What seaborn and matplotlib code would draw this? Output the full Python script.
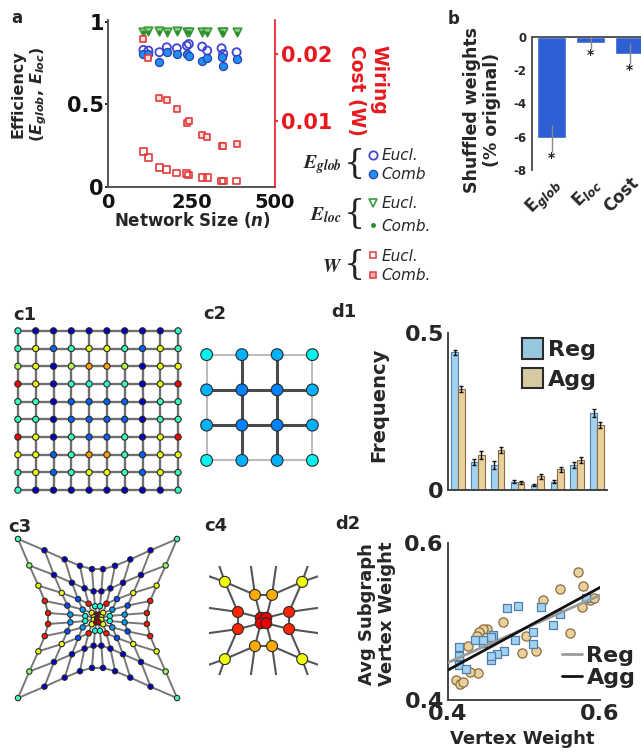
"""Multi-panel figure: efficiency / wiring cost vs. network size, shuffled
weights, example vertex-weight networks and subgraph statistics."""
import numpy as np
import pandas as pd
import matplotlib
matplotlib.use("Agg")
import matplotlib.pyplot as plt
from matplotlib.lines import Line2D
from matplotlib.patches import Patch
import seaborn as sns

W_PX, H_PX = 641, 752

# ---- panel a: efficiency and wiring cost vs. network size
network_size = [106, 121, 154, 176, 206, 236, 242, 282, 297, 340, 345, 385]
eglob_eucl = [0.829, 0.825, 0.815, 0.845, 0.839, 0.855, 0.865, 0.849, 0.825, 0.839, 0.805, 0.815]
eglob_comb = [0.805, 0.805, 0.755, 0.815, 0.805, 0.805, 0.795, 0.761, 0.781, 0.785, 0.729, 0.775]
eloc_eucl = [0.940, 0.945, 0.945, 0.940, 0.945, 0.940, 0.940, 0.940, 0.935, 0.940, 0.935, 0.935]
eloc_comb = [0.935, 0.940, 0.940, 0.935, 0.940, 0.935, 0.935, 0.935, 0.930, 0.935, 0.930, 0.930]
wiring_eucl = [0.0053, 0.0044, 0.0029, 0.0026, 0.0021, 0.0020, 0.0018, 0.0014, 0.0014, 0.0009, 0.0009, 0.0009]
wiring_comb = [0.0223, 0.0194, 0.0135, 0.0132, 0.0117, 0.0097, 0.0100, 0.0079, 0.0076, 0.0062, 0.0062, 0.0065]

# ---- panel b: shuffled weights (% of original)
shuffle_labels = [r"E$_{glob}$", r"E$_{loc}$", "Cost"]
shuffle_change = [-6.1, -0.35, -1.0]
shuffle_err = [0.8, 0.4, 0.65]

# ---- panels c1-c4: vertex weights on the jet scale (0-1)
c1_weights = [
    [0.41, 0.06, 0.06, 0.06, 0.06, 0.06, 0.06, 0.06, 0.06, 0.41],
    [0.42, 0.63, 0.22, 0.42, 0.63, 0.63, 0.42, 0.22, 0.63, 0.42],
    [0.56, 0.63, 0.06, 0.56, 0.74, 0.74, 0.56, 0.06, 0.63, 0.63],
    [0.90, 0.63, 0.06, 0.42, 0.40, 0.40, 0.42, 0.06, 0.63, 0.90],
    [0.42, 0.42, 0.06, 0.22, 0.22, 0.22, 0.22, 0.06, 0.42, 0.42],
    [0.42, 0.42, 0.06, 0.22, 0.22, 0.22, 0.22, 0.06, 0.42, 0.42],
    [0.90, 0.63, 0.06, 0.42, 0.22, 0.22, 0.42, 0.06, 0.63, 0.90],
    [0.63, 0.63, 0.22, 0.42, 0.74, 0.74, 0.42, 0.22, 0.63, 0.63],
    [0.42, 0.63, 0.22, 0.42, 0.63, 0.63, 0.42, 0.22, 0.63, 0.42],
    [0.41, 0.06, 0.06, 0.06, 0.06, 0.06, 0.06, 0.06, 0.06, 0.41],
]
c2_weights = [
    [0.36, 0.30, 0.30, 0.36],
    [0.30, 0.25, 0.25, 0.30],
    [0.30, 0.25, 0.25, 0.30],
    [0.36, 0.30, 0.30, 0.36],
]
c3_weights = [
    [0.43, 0.06, 0.06, 0.06, 0.06, 0.06, 0.06, 0.06, 0.06, 0.43],
    [0.52, 0.06, 0.06, 0.06, 0.06, 0.06, 0.06, 0.06, 0.06, 0.52],
    [0.63, 0.63, 0.20, 0.88, 0.38, 0.38, 0.88, 0.20, 0.63, 0.63],
    [0.88, 0.20, 0.28, 0.63, 0.96, 0.96, 0.63, 0.28, 0.20, 0.88],
    [0.88, 0.28, 0.38, 0.63, 0.96, 0.96, 0.63, 0.38, 0.28, 0.88],
    [0.88, 0.28, 0.38, 0.63, 0.96, 0.96, 0.63, 0.38, 0.28, 0.88],
    [0.88, 0.20, 0.28, 0.63, 0.96, 0.96, 0.63, 0.28, 0.20, 0.88],
    [0.63, 0.63, 0.20, 0.88, 0.38, 0.38, 0.88, 0.20, 0.63, 0.63],
    [0.52, 0.06, 0.06, 0.06, 0.06, 0.06, 0.06, 0.06, 0.06, 0.52],
    [0.43, 0.06, 0.06, 0.06, 0.06, 0.06, 0.06, 0.06, 0.06, 0.43],
]
c4_weights = [
    [0.64, 0.73, 0.73, 0.64],
    [0.87, 0.91, 0.91, 0.87],
    [0.87, 0.91, 0.91, 0.87],
    [0.64, 0.73, 0.73, 0.64],
]

# ---- panel d1: subgraph frequency
motif_ids = ["1", "2", "3", "4", "5", "6", "7", "8"]
freq_reg = [0.438, 0.090, 0.080, 0.027, 0.016, 0.027, 0.080, 0.245]
freq_agg = [0.321, 0.112, 0.128, 0.024, 0.043, 0.066, 0.096, 0.207]
freq_reg_err = [0.008, 0.010, 0.012, 0.005, 0.004, 0.006, 0.010, 0.012]
freq_agg_err = [0.010, 0.012, 0.010, 0.004, 0.008, 0.008, 0.010, 0.010]

# ---- panel d2: vertex weight vs. avg subgraph vertex weight
reg_vertex = [0.477, 0.492, 0.523, 0.547, 0.538, 0.512, 0.512, 0.488, 0.459, 0.457, 0.446,
              0.474, 0.465, 0.456, 0.457, 0.415, 0.415, 0.415, 0.424, 0.435, 0.446, 0.582]
reg_subgraph = [0.517, 0.520, 0.519, 0.510, 0.496, 0.487, 0.471, 0.477, 0.483, 0.480, 0.472,
                0.462, 0.458, 0.451, 0.456, 0.468, 0.456, 0.445, 0.440, 0.477, 0.477, 0.530]
agg_vertex = [0.571, 0.547, 0.577, 0.587, 0.576, 0.525, 0.472, 0.451, 0.446, 0.441, 0.438, 0.457,
              0.426, 0.502, 0.497, 0.516, 0.561, 0.411, 0.416, 0.420, 0.440, 0.429, 0.415, 0.592]
agg_subgraph = [0.563, 0.541, 0.545, 0.528, 0.518, 0.528, 0.500, 0.491, 0.491, 0.486, 0.482, 0.477,
                0.469, 0.482, 0.460, 0.462, 0.485, 0.425, 0.421, 0.423, 0.434, 0.436, 0.451, 0.530]

REG_FACE, REG_EDGE = "#a3d2ee", "#4f7fae"
AGG_FACE, AGG_EDGE = "#ead19c", "#8d6c43"


def px_axes(fig, x0, y0, x1, y1):
    """Axes placed by pixel box (origin top-left)."""
    return fig.add_axes([x0 / W_PX, 1 - y1 / H_PX, (x1 - x0) / W_PX, (y1 - y0) / H_PX])


def fx(x):
    return x / W_PX


def fy(y):
    return 1 - y / H_PX


def grid_edges(nrow, ncol):
    edges = []
    for i in range(nrow):
        for j in range(ncol):
            if j + 1 < ncol:
                edges.append(((i, j), (i, j + 1)))
            if i + 1 < nrow:
                edges.append(((i, j), (i + 1, j)))
    return edges


def warp(u, v):
    w = ((u ** 2 + v ** 2) / 2) ** 0.7
    return u * w, v * w


def draw_nodes(ax, xs, ys, weights, size):
    ax.scatter(np.ravel(xs), np.ravel(ys), c=np.ravel(weights), cmap="jet", vmin=0, vmax=1,
               s=size, edgecolors="#2a2a2a", linewidths=0.8, zorder=3)


sns.set_theme(style="white")
plt.rcParams["font.family"] = ["DejaVu Sans"]
plt.rcParams["font.weight"] = "bold"
plt.rcParams["axes.labelweight"] = "bold"
plt.rcParams["axes.linewidth"] = 1.4

fig = plt.figure(figsize=(W_PX / 100, H_PX / 100), dpi=100)

# ================= panel a =================
ax_a = px_axes(fig, 108, 20, 275, 187)
ax_w = ax_a.twinx()
sns.scatterplot(x=network_size, y=eglob_eucl, ax=ax_a, marker="o", s=34, color="#4444d4",
                facecolor="none", edgecolor="#4444d4", linewidth=1.3, zorder=3)
sns.scatterplot(x=network_size, y=eglob_comb, ax=ax_a, marker="o", s=34, color="#1f8ff0",
                edgecolor="#2a3fb0", linewidth=0.9, zorder=3)
sns.scatterplot(x=network_size, y=eloc_eucl, ax=ax_a, marker="v", s=38, color="#43a047",
                facecolor="#8fcf8a", edgecolor="#3a9a3a", linewidth=1.2, zorder=3)
sns.scatterplot(x=network_size, y=eloc_comb, ax=ax_a, marker="o", s=6, color="#2e8b2e",
                edgecolor="#2e8b2e", linewidth=0.3, zorder=4)
sns.scatterplot(x=network_size, y=wiring_eucl, ax=ax_w, marker="s", s=24, color="#e23b3b",
                facecolor="none", edgecolor="#e23b3b", linewidth=1.2)
sns.scatterplot(x=network_size, y=wiring_comb, ax=ax_w, marker="s", s=24, color="#e23b3b",
                facecolor="#fbdede", edgecolor="#e23b3b", linewidth=1.2)
ax_a.set_xlim(0, 500)
ax_a.set_ylim(0, 1.01)
ax_w.set_ylim(0, 0.0252)
ax_a.set_xticks([0, 250, 500])
ax_a.set_xticklabels(["0", "250", "500"], fontsize=14, fontweight="bold")
ax_a.set_yticks([0, 0.5, 1])
ax_a.set_yticklabels(["0", "0.5", "1"], fontsize=15, fontweight="bold")
ax_a.tick_params(axis="both", length=2, pad=1, colors="#111111")
ax_a.tick_params(axis="x", pad=2)
ax_w.set_yticks([0.01, 0.02])
ax_w.set_yticklabels(["0.01", "0.02"], fontsize=15, fontweight="bold", color="#e8191e")
ax_w.tick_params(axis="y", length=2, pad=2, colors="#e8191e")
for side in ("top", "right"):
    ax_a.spines[side].set_visible(False)
for side in ("top", "left", "bottom"):
    ax_w.spines[side].set_visible(False)
ax_a.spines["left"].set_color("#555555")
ax_a.spines["bottom"].set_color("#555555")
ax_w.spines["right"].set_color("#e8191e")
ax_w.spines["right"].set_linewidth(1.2)
ax_a.set_xlabel("")
ax_a.set_ylabel("")
ax_w.set_ylabel("")

fig.text(fx(30), fy(94), "Efficiency\n" + r"($\mathbfit{E}_{\mathbfit{glob}}$, $\mathbfit{E}_{\mathbfit{loc}}$)",
         rotation=90, ha="center", va="center", fontsize=11.5, fontweight="bold", multialignment="center")
fig.text(fx(368), fy(90), "Wiring\nCost (W)", rotation=270, ha="center", va="center",
         fontsize=13.5, fontweight="bold", color="#e8191e", multialignment="left")
fig.text(fx(192), fy(220), r"Network Size ($\mathbfit{n}$)", ha="center", va="center",
         fontsize=12, fontweight="bold")

# bracketed legend of panel a
legend_font = {"size": 11, "style": "italic", "weight": "normal"}
groups = [
    (r"$E_{glob}$", 165,
     [Line2D([], [], ls="none", marker="o", ms=6, mfc="none", mec="#4444d4", mew=1.3),
      Line2D([], [], ls="none", marker="o", ms=6, mfc="#1f8ff0", mec="#2a3fb0", mew=0.9)],
     ["Eucl.", "Comb"], 0.25),
    (r"$E_{loc}$", 215,
     [Line2D([], [], ls="none", marker="v", ms=6, mfc="none", mec="#3a9a3a", mew=1.2),
      Line2D([], [], ls="none", marker="o", ms=2.5, mfc="#2e8b2e", mec="#2e8b2e")],
     ["Eucl.", "Comb."], 0.5),
    (r"$W$", 266,
     [Line2D([], [], ls="none", marker="s", ms=5, mfc="none", mec="#e23b3b", mew=1.1),
      Line2D([], [], ls="none", marker="s", ms=5, mfc="#f6b0b0", mec="#e23b3b", mew=1.1)],
     ["Eucl.", "Comb."], 0.3),
]
for sym, yc, handles, labels, spacing in groups:
    fig.text(fx(342), fy(yc), sym, ha="right", va="center", fontsize=14, math_fontfamily="stix")
    fig.text(fx(354), fy(yc - 1), "{", ha="center", va="center", fontsize=24,
             family="DejaVu Serif", fontweight="light", color="#222222")
    fig.legend(handles=handles, labels=labels, loc="center left",
               bbox_to_anchor=(fx(367), fy(yc)), bbox_transform=fig.transFigure,
               frameon=False, prop=legend_font, handlelength=0.8, handletextpad=0.15,
               borderpad=0, borderaxespad=0, labelspacing=spacing)

# ================= panel b =================
ax_b = px_axes(fig, 532, 37, 649, 170)
sns.barplot(x=shuffle_labels, y=shuffle_change, color="#2f5fd4", width=0.75, ax=ax_b,
            saturation=1, errorbar=None)
bars_b = list(ax_b.containers[0])
bx = [b.get_x() + b.get_width() / 2 for b in bars_b]
ax_b.errorbar(bx, shuffle_change, yerr=shuffle_err, fmt="none", ecolor="#8a8a8a", elinewidth=1.0, zorder=4)
for xi, v, e in zip(bx, shuffle_change, shuffle_err):
    ax_b.text(xi, v - e - 0.35, "*", ha="center", va="center", fontsize=10, color="#222222")
ax_b.set_xlim(-0.5, 2.5)
ax_b.set_ylim(-8, 0)
ax_b.set_yticks([0, -2, -4, -6, -8])
ax_b.set_yticklabels(["0", "-2", "-4", "-6", "-8"], fontsize=8.5, fontweight="bold")
ax_b.tick_params(axis="y", length=2, pad=2)
ax_b.tick_params(axis="x", length=0, pad=3)
for lab in ax_b.get_xticklabels():
    lab.set_rotation(45)
    lab.set_ha("right")
    lab.set_rotation_mode("anchor")
    lab.set_fontsize(12)
    lab.set_fontweight("bold")
ax_b.spines["right"].set_visible(False)
ax_b.spines["bottom"].set_visible(False)
ax_b.spines["left"].set_color("#555555")
ax_b.spines["top"].set_color("#555555")
fig.text(fx(482), fy(110), "Shuffled weights\n(% original)", rotation=90, ha="center", va="center",
         fontsize=12.5, fontweight="bold", multialignment="center")

# ================= panel c1: regular lattice =================
ax_c1 = px_axes(fig, 9, 322, 187, 499)
w1 = np.array(c1_weights)
n1 = w1.shape[0]
for (i0, j0), (i1, j1) in grid_edges(n1, n1):
    ax_c1.plot([j0, j1], [-i0, -i1], color="#6f6f6f", lw=1.7, zorder=1, solid_capstyle="butt")
jj, ii = np.meshgrid(np.arange(n1), np.arange(n1))
draw_nodes(ax_c1, jj, -ii, w1, 20)
ax_c1.set_xlim(-0.5, n1 - 0.5)
ax_c1.set_ylim(-(n1 - 0.5), 0.5)
ax_c1.axis("off")

# ================= panel c2: 4x4 lattice =================
ax_c2 = px_axes(fig, 189, 337, 330, 478)
w2 = np.array(c2_weights)
n2 = w2.shape[0]
for (i0, j0), (i1, j1) in grid_edges(n2, n2):
    on_border = (i0 == i1 and i0 in (0, n2 - 1)) or (j0 == j1 and j0 in (0, n2 - 1))
    ax_c2.plot([j0, j1], [-i0, -i1], color="#b5b5b5" if on_border else "#4a4a4a",
               lw=1.3 if on_border else 2.2, zorder=1)
jj, ii = np.meshgrid(np.arange(n2), np.arange(n2))
draw_nodes(ax_c2, jj, -ii, w2, 72)
ax_c2.set_xlim(-0.5, n2 - 0.5)
ax_c2.set_ylim(-(n2 - 0.5), 0.5)
ax_c2.axis("off")

# ================= panel c3: aggregated (warped) lattice =================
ax_c3 = px_axes(fig, 10, 531, 185, 706)
w3 = np.array(c3_weights)
n3 = w3.shape[0]
g3 = np.linspace(-1, 1, n3)
uu, vv = np.meshgrid(g3, -g3)
x3, y3 = warp(uu, vv)
for (i0, j0), (i1, j1) in grid_edges(n3, n3):
    ax_c3.plot([x3[i0, j0], x3[i1, j1]], [y3[i0, j0], y3[i1, j1]], color="#777777", lw=1.4, zorder=1)
draw_nodes(ax_c3, x3, y3, w3, 15)
ax_c3.set_xlim(-1.1, 1.1)
ax_c3.set_ylim(-1.1, 1.1)
ax_c3.axis("off")

# ================= panel c4: centre of the aggregated lattice =================
ax_c4 = px_axes(fig, 209, 566, 318, 675)
w4 = np.array(c4_weights)
g4 = np.array([-5 / 3, -1, -1 / 3, 1 / 3, 1, 5 / 3])
uu, vv = np.meshgrid(g4, -g4)
x4, y4 = warp(uu, vv)
inner = range(1, 5)
for (i0, j0), (i1, j1) in grid_edges(6, 6):
    if (i0 in inner and j0 in inner) or (i1 in inner and j1 in inner):
        ax_c4.plot([x4[i0, j0], x4[i1, j1]], [y4[i0, j0], y4[i1, j1]], color="#555555", lw=1.5, zorder=1)
draw_nodes(ax_c4, x4[1:5, 1:5], y4[1:5, 1:5], w4, 62)
ax_c4.set_xlim(-1.41, 1.41)
ax_c4.set_ylim(-1.41, 1.41)
ax_c4.axis("off")

# ================= panel d1: subgraph frequencies =================
ax_d1 = px_axes(fig, 448, 333, 607, 490)
freq_df = pd.DataFrame({
    "motif": motif_ids * 2,
    "group": ["Reg"] * len(motif_ids) + ["Agg"] * len(motif_ids),
    "freq": freq_reg + freq_agg,
})
sns.barplot(data=freq_df, x="motif", y="freq", hue="group", palette={"Reg": REG_FACE, "Agg": AGG_FACE},
            width=0.68, errorbar=None, saturation=1, ax=ax_d1, legend=False, linewidth=0.8)
for cont, edge, errs in zip(ax_d1.containers, [REG_EDGE, AGG_EDGE], [freq_reg_err, freq_agg_err]):
    xs = []
    ys = []
    for bar in cont:
        bar.set_edgecolor(edge)
        xs.append(bar.get_x() + bar.get_width() / 2)
        ys.append(bar.get_height())
    ax_d1.errorbar(xs, ys, yerr=errs, fmt="none", ecolor="#111111", elinewidth=1.0, capsize=1.5, zorder=4)
ax_d1.set_xlim(-0.5, 7.5)
ax_d1.set_ylim(0, 0.5)
ax_d1.set_xticks([])
ax_d1.set_yticks([0, 0.5])
ax_d1.set_yticklabels(["0", "0.5"], fontsize=16, fontweight="bold")
ax_d1.tick_params(axis="y", length=0, pad=3)
ax_d1.set_xlabel("")
ax_d1.set_ylabel("")
ax_d1.spines["top"].set_visible(False)
ax_d1.spines["right"].set_visible(False)
ax_d1.spines["left"].set_color("#444444")
ax_d1.spines["bottom"].set_color("#444444")
ax_d1.legend(handles=[Patch(facecolor="#96c8df", edgecolor="#2b2b2b", lw=1.5),
                      Patch(facecolor="#d6caa0", edgecolor="#2b2b2b", lw=1.5)],
             labels=["Reg", "Agg"], loc="upper left", bbox_to_anchor=(fx(522), fy(338)),
             bbox_transform=fig.transFigure, frameon=False, handlelength=0.95, handleheight=1.05,
             handletextpad=0.2, labelspacing=0.35, borderpad=0, borderaxespad=0,
             prop={"size": 16, "weight": "bold"})
fig.text(fx(379), fy(405), "Frequency", rotation=90, ha="center", va="center", fontsize=14, fontweight="bold")

# ================= panel d2: subgraph vs vertex weight =================
ax_d2 = px_axes(fig, 448, 543, 600, 700)
ax_d2.set_xlim(0.4, 0.6)
ax_d2.set_ylim(0.4, 0.6)
sns.scatterplot(x=agg_vertex, y=agg_subgraph, ax=ax_d2, marker="o", s=44, color=AGG_FACE,
                edgecolor=AGG_EDGE, linewidth=0.9, zorder=3)
sns.scatterplot(x=reg_vertex, y=reg_subgraph, ax=ax_d2, marker="s", s=34, color=REG_FACE,
                edgecolor=REG_EDGE, linewidth=0.9, zorder=3)
sns.regplot(x=reg_vertex, y=reg_subgraph, ax=ax_d2, scatter=False, ci=None, truncate=False,
            color="#9a9a9a", line_kws={"lw": 2, "zorder": 4})
sns.regplot(x=agg_vertex, y=agg_subgraph, ax=ax_d2, scatter=False, ci=None, truncate=False,
            color="#111111", line_kws={"lw": 2, "zorder": 5})
ax_d2.set_xlim(0.4, 0.6)
ax_d2.set_ylim(0.4, 0.6)
ax_d2.set_xticks([0.4, 0.6])
ax_d2.set_xticklabels(["0.4", "0.6"], fontsize=16, fontweight="bold")
ax_d2.set_yticks([0.4, 0.6])
ax_d2.set_yticklabels(["0.4", "0.6"], fontsize=16, fontweight="bold")
ax_d2.tick_params(axis="both", length=0, pad=3)
ax_d2.set_xlabel("")
ax_d2.set_ylabel("")
ax_d2.spines["top"].set_visible(False)
ax_d2.spines["right"].set_visible(False)
ax_d2.spines["left"].set_color("#444444")
ax_d2.spines["bottom"].set_color("#444444")
ax_d2.legend(handles=[Line2D([], [], color="#9a9a9a", lw=2), Line2D([], [], color="#111111", lw=2)],
             labels=["Reg", "Agg"], loc="center left", bbox_to_anchor=(fx(562), fy(667)),
             bbox_transform=fig.transFigure, frameon=False, handlelength=0.9, handletextpad=0.2,
             labelspacing=0.1, borderpad=0, borderaxespad=0, prop={"size": 16, "weight": "bold"})
fig.text(fx(377), fy(614), "Avg Subgraph\nVertex Weight", rotation=90, ha="center", va="center",
         fontsize=13, fontweight="bold", multialignment="center")
fig.text(fx(522), fy(739), "Vertex Weight", ha="center", va="center", fontsize=13, fontweight="bold")

# ================= panel letters =================
for text, x, y in [("a", 17, 18), ("b", 454, 19), ("c1", 25, 315), ("c2", 215, 314),
                   ("c3", 20, 527), ("c4", 216, 526), ("d1", 344, 312), ("d2", 348, 524)]:
    fig.text(fx(x), fy(y), text, ha="center", va="center", fontsize=13 if len(text) > 1 else 12,
             fontweight="bold")

fig.savefig("out.png", dpi=100)
